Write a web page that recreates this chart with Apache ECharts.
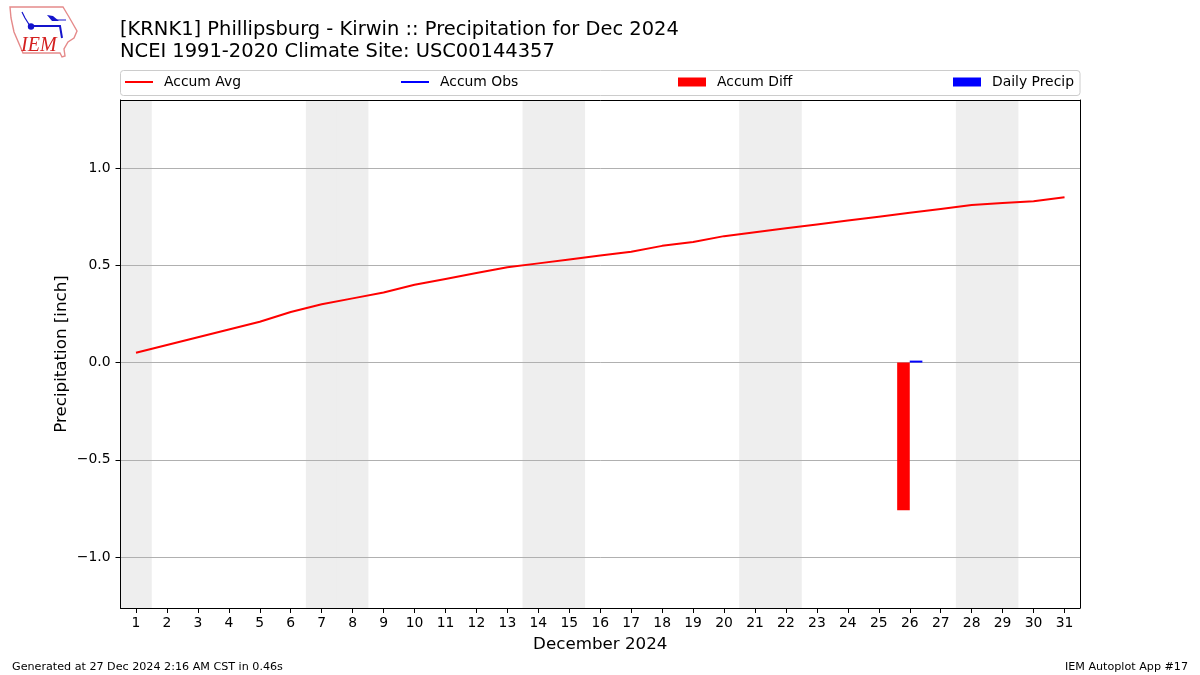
<!DOCTYPE html>
<html>
<head>
<meta charset="utf-8">
<style>
  html, body { margin: 0; padding: 0; background: #fff; }
  #main { width: 1200px; height: 675px; }
</style>
<script src="https://cdn.jsdelivr.net/npm/echarts@6/dist/echarts.min.js"></script>
</head>
<body>
<div id="main"></div>
<script>
var days = ['1', '2', '3', '4', '5', '6', '7', '8', '9', '10', '11', '12', '13', '14', '15', '16',
  '17', '18', '19', '20', '21', '22', '23', '24', '25', '26', '27', '28', '29', '30', '31']
var accumAvg = [0.05, 0.09, 0.13, 0.17, 0.21, 0.26, 0.30, 0.33, 0.36, 0.40, 0.43, 0.46, 0.49, 0.51, 0.53, 0.55,
  0.57, 0.60, 0.62, 0.65, 0.67, 0.69, 0.71, 0.73, 0.75, 0.77, 0.79, 0.81, 0.82, 0.83, 0.85]
// no observed accumulation line is visible on the chart, only its legend entry
var accumObs = []
var accumDiff = [null, null, null, null, null, null, null, null, null, null, null, null, null, null, null, null,
  null, null, null, null, null, null, null, null, null, -0.76, null, null, null, null, null]
var dailyPrecip = [null, null, null, null, null, null, null, null, null, null, null, null, null, null, null, null,
  null, null, null, null, null, null, null, null, null, 0.01, null, null, null, null, null]
// weekend shading, 1 = shaded
var weekend = [1, null, null, null, null, null, 1, 1, null, null, null, null, null, 1, 1, null,
  null, null, null, null, 1, 1, null, null, null, null, null, 1, 1, null, null]
var yTicks = [-1, -0.5, 0, 0.5, 1]

var font = '"DejaVu Sans", sans-serif'
var chart = echarts.init(document.getElementById('main'))

function legendAt (name, left, height) {
  return {
    data: [name],
    left: left,
    top: 75,
    padding: 0,
    icon: 'rect',
    itemWidth: 28,
    itemHeight: height,
    selectedMode: false,
    textStyle: { fontFamily: font, fontSize: 13.9, color: '#000', padding: [0, 0, 0, 6] }
  }
}

var option = {
  animation: false,
  backgroundColor: '#fff',
  title: {
    text: '[KRNK1] Phillipsburg - Kirwin :: Precipitation for Dec 2024\nNCEI 1991-2020 Climate Site: USC00144357',
    left: 120,
    top: 19,
    padding: 0,
    textStyle: { fontFamily: font, fontSize: 19.47, fontWeight: 'normal', color: '#000', lineHeight: 22 }
  },
  legend: [
    legendAt('Accum Avg', 125, 2),
    legendAt('Accum Obs', 401, 2),
    legendAt('Accum Diff', 678, 9),
    legendAt('Daily Precip', 953, 9)
  ],
  grid: { left: 120.5, top: 100, width: 959.5, height: 508, containLabel: false },
  xAxis: [
    {
      type: 'category',
      data: days,
      name: 'December 2024',
      nameLocation: 'middle',
      nameGap: 28,
      nameTextStyle: { fontFamily: font, fontSize: 16.7, color: '#000' },
      axisLine: { onZero: false, lineStyle: { color: '#000', width: 1 } },
      axisTick: { show: true, alignWithLabel: true, length: 5, lineStyle: { color: '#000', width: 1 } },
      axisLabel: { interval: 0, fontFamily: font, fontSize: 13.9, color: '#000', margin: 8 },
      splitLine: { show: false }
    },
    {
      type: 'category',
      data: days,
      position: 'top',
      axisLine: { onZero: false, lineStyle: { color: '#000', width: 1 } },
      axisTick: { show: false },
      axisLabel: { show: false },
      splitLine: { show: false }
    }
  ],
  yAxis: [
    {
      type: 'value',
      min: -1.262,
      max: 1.35,
      name: 'Precipitation [inch]',
      nameLocation: 'middle',
      nameGap: 50,
      nameMoveOverlap: false,
      nameTextStyle: { fontFamily: font, fontSize: 16.7, color: '#000' },
      axisLine: { show: true, onZero: false, lineStyle: { color: '#000', width: 1 } },
      axisTick: { show: true, length: 5, customValues: yTicks, lineStyle: { color: '#000', width: 1 } },
      axisLabel: {
        customValues: yTicks,
        fontFamily: font,
        fontSize: 13.9,
        color: '#000',
        margin: 10,
        padding: [2, 0, 0, 0],
        formatter: function (v) { return v.toFixed(1).replace('-', '\u2212') }
      },
      splitLine: { show: true, lineStyle: { color: '#b0b0b0', width: 1 } }
    },
    {
      type: 'value',
      min: 0,
      max: 1,
      position: 'right',
      axisLine: { show: true, onZero: false, lineStyle: { color: '#000', width: 1 } },
      axisTick: { show: false },
      axisLabel: { show: false },
      splitLine: { show: false }
    }
  ],
  series: [
    {
      name: 'Weekend',
      type: 'bar',
      xAxisIndex: 1,
      yAxisIndex: 1,
      barWidth: 31.6,
      z: -1,
      silent: true,
      itemStyle: { color: '#eeeeee' },
      data: weekend
    },
    {
      name: 'Accum Avg',
      type: 'line',
      symbol: 'none',
      itemStyle: { color: '#ff0000' },
      lineStyle: { color: '#ff0000', width: 2 },
      data: accumAvg
    },
    {
      name: 'Accum Obs',
      type: 'line',
      symbol: 'none',
      itemStyle: { color: '#0000ff' },
      lineStyle: { color: '#0000ff', width: 2 },
      data: accumObs
    },
    {
      name: 'Accum Diff',
      type: 'bar',
      barWidth: 12.6,
      barGap: 0,
      itemStyle: { color: '#ff0000' },
      data: accumDiff
    },
    {
      name: 'Daily Precip',
      type: 'bar',
      barWidth: 12.6,
      barGap: 0,
      itemStyle: { color: '#0000ff' },
      data: dailyPrecip
    }
  ],
  graphic: [
    // legend frame
    {
      type: 'rect',
      silent: true,
      z: -1,
      shape: { x: 120.5, y: 70.5, width: 959.5, height: 25, r: 3 },
      style: { fill: '#fff', stroke: '#cccccc', lineWidth: 1 }
    },
    // IEM logo
    {
      type: 'polygon',
      silent: true,
      shape: {
        points: [[10, 7], [63, 7], [66, 12], [69, 17], [77, 31], [74, 38], [68, 42], [64, 49],
          [65, 56], [62, 57], [60, 53], [23, 53], [20, 46], [14, 32], [11, 18]]
      },
      style: { fill: '#fff', stroke: '#e58a8a', lineWidth: 1.4 }
    },
    {
      type: 'polyline',
      silent: true,
      shape: { points: [[31, 26], [60, 26], [62, 38]] },
      style: { fill: 'none', stroke: '#1414cc', lineWidth: 2 }
    },
    {
      type: 'polyline',
      silent: true,
      shape: { points: [[30, 26], [25, 18], [22, 12]] },
      style: { fill: 'none', stroke: '#1414cc', lineWidth: 1.2 }
    },
    {
      type: 'polygon',
      silent: true,
      shape: { points: [[47, 15], [53, 16], [59, 21], [52, 21]] },
      style: { fill: '#1414cc' }
    },
    {
      type: 'polyline',
      silent: true,
      shape: { points: [[52, 20], [66, 20]] },
      style: { fill: 'none', stroke: '#1414cc', lineWidth: 1 }
    },
    {
      type: 'circle',
      silent: true,
      shape: { cx: 31, cy: 26.5, r: 3.2 },
      style: { fill: '#1414cc' }
    },
    {
      type: 'text',
      silent: true,
      style: {
        x: 21,
        y: 36,
        text: 'IEM',
        fill: '#d42020',
        font: 'italic 20px "Liberation Serif", serif'
      }
    },
    // footer
    {
      type: 'text',
      silent: true,
      style: { x: 12, y: 662, text: 'Generated at 27 Dec 2024 2:16 AM CST in 0.46s', fill: '#000', font: '11.15px ' + font }
    },
    {
      type: 'text',
      silent: true,
      style: { x: 1188, y: 662, align: 'right', text: 'IEM Autoplot App #17', fill: '#000', font: '11.15px ' + font }
    }
  ]
}
chart.setOption(option)
</script>
</body>
</html>
